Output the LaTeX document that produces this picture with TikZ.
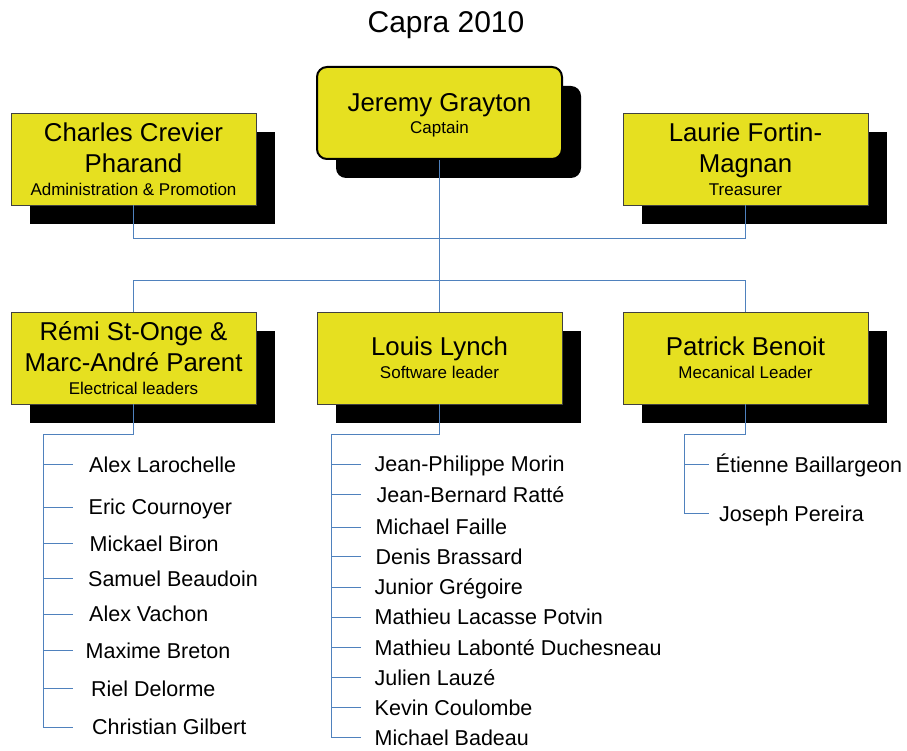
\documentclass[tikz,border=0pt]{standalone}
\usepackage{fontspec}
\setmainfont{Liberation Sans}
\usetikzlibrary{shadows}
\definecolor{boxyellow}{RGB}{230,224,32}
\definecolor{connblue}{RGB}{79,129,189}
\newcommand{\namefont}{\fontsize{25.8}{31}\selectfont}
\newcommand{\subfont}{\fontsize{17}{20}\selectfont}
\newcommand{\listfont}{\fontsize{21.5}{25}\selectfont}
\begin{document}
\begin{tikzpicture}[x=1pt,y=-1pt,
  box/.style={draw=black!75, line width=0.8pt, fill=boxyellow,
    minimum width=245pt, minimum height=92pt, inner sep=0pt,
    align=center, font=\namefont,
    drop shadow={shadow xshift=19pt, shadow yshift=-19pt, fill=black, opacity=1}},
  capbox/.style={box, draw=black, line width=2pt, rounded corners=10pt},
  conn/.style={draw=connblue, line width=0.9pt},
  member/.style={anchor=west, inner sep=0pt, font=\listfont,
    text height=15.4pt, text depth=0pt}]
\fill[white] (0,0) rectangle (907,751);
\useasboundingbox (0,0) rectangle (907,751);

\node[anchor=base, font=\fontsize{30}{36}\selectfont] (title) at (446,33) {Capra 2010};

\node[box] (charles) at (133.5,159) {Charles Crevier\\Pharand\\[-8pt]{\subfont Administration \& Promotion}};
\node[capbox] (jeremy) at (439.5,113) {\rule{0pt}{23pt}Jeremy Grayton\\[-9pt]{\subfont Captain}};
\node[box] (laurie) at (745.5,159) {Laurie Fortin-\\Magnan\\[-8pt]{\subfont Treasurer}};
\node[box] (remi) at (133.5,358) {Rémi St-Onge \&\\Marc-André Parent\\[-8pt]{\subfont Electrical leaders}};
\node[box] (louis) at (439.5,358) {Louis Lynch\\[-8pt]{\subfont Software leader}};
\node[box] (patrick) at (745.5,358) {Patrick Benoit\\[-8pt]{\subfont Mecanical Leader}};

\draw[conn] (charles.south) -- ++(0,33) -| (laurie.south);
\draw[conn] (jeremy.south) -- (louis.north);
\draw[conn] (remi.north) -- ++(0,-31) -| (patrick.north);

% electrical members
\node[member] (l1) at (89,464.5) {Alex Larochelle};
\node[member] (l2) at (88.5,507) {Eric Cournoyer};
\node[member] (l3) at (89.5,543.5) {Mickael Biron};
\node[member] (l4) at (88,578.5) {Samuel Beaudoin};
\node[member] (l5) at (89,614) {Alex Vachon};
\node[member] (l6) at (85.5,650.5) {Maxime Breton};
\node[member] (l7) at (91,688.5) {Riel Delorme};
\node[member] (l8) at (92,727) {Christian Gilbert};
\coordinate (lbus) at (43,434);
\draw[conn] (remi.south) -- (remi.south |- lbus) -- (lbus) -- (lbus |- l8.west);
\foreach \n in {1,...,8} \draw[conn] (lbus |- l\n.west) -- ++(30,0);

% software members
\node[member] (m1) at (374.5,464) {Jean-Philippe Morin};
\node[member] (m2) at (376.5,494.5) {Jean-Bernard Ratté};
\node[member] (m3) at (375.5,527) {Michael Faille};
\node[member] (m4) at (375.5,556.5) {Denis Brassard};
\node[member] (m5) at (374.5,587) {Junior Grégoire};
\node[member] (m6) at (374.5,617) {Mathieu Lacasse Potvin};
\node[member] (m7) at (374.5,647.5) {Mathieu Labonté Duchesneau};
\node[member] (m8) at (374.5,677.5) {Julien Lauzé};
\node[member] (m9) at (374.5,707.5) {Kevin Coulombe};
\node[member] (m10) at (374.5,737.5) {Michael Badeau};
\coordinate (mbus) at (331,434);
\draw[conn] (louis.south) -- (louis.south |- mbus) -- (mbus) -- (mbus |- m10.west);
\foreach \n in {1,...,10} \draw[conn] (mbus |- m\n.west) -- ++(30,0);

% mechanical members
\node[member] (r1) at (715.5,464.5) {Étienne Baillargeon};
\node[member] (r2) at (719,513.5) {Joseph Pereira};
\coordinate (rbus) at (684,434);
\draw[conn] (patrick.south) -- (patrick.south |- rbus) -- (rbus) -- (rbus |- r2.west);
\foreach \n in {1,2} \draw[conn] (rbus |- r\n.west) -- ++(25,0);
\end{tikzpicture}
\end{document}
